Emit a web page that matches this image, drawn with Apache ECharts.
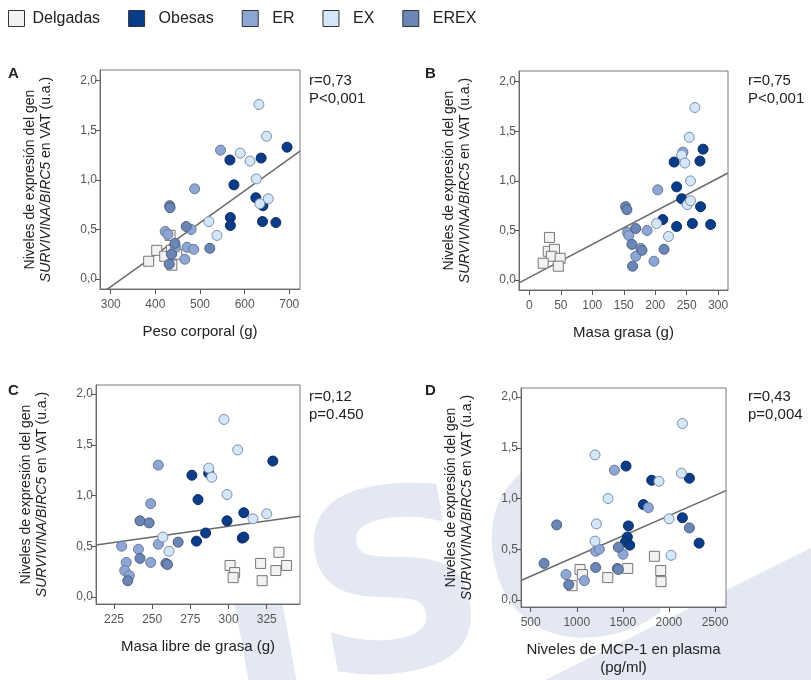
<!DOCTYPE html>
<html>
<head>
<meta charset="utf-8">
<script src="https://cdn.jsdelivr.net/npm/echarts@6/dist/echarts.min.js"></script>
<style>
  html, body { margin: 0; padding: 0; background: #fff; }
  #chart { width: 811px; height: 680px; }
</style>
</head>
<body>
<div id="chart"></div>
<script>
// tick values
var yTicks = [0, 0.5, 1, 1.5, 2];
var xTicksA = [300, 400, 500, 600, 700];
var xTicksB = [0, 50, 100, 150, 200, 250, 300];
var xTicksC = [225, 250, 275, 300, 325];
var xTicksD = [500, 1000, 1500, 2000, 2500];

// groups
var groups = ['Delgadas', 'Obesas', 'ER', 'EX', 'EREX'];

// A: peso corporal (g)
var aDelgadas = [[433, 0.44], [403, 0.29], [421, 0.23], [448, 0.25], [437, 0.14], [385, 0.18], [436, 0.29]];
var aObesas = [[695, 1.33], [567, 1.20], [637, 1.22], [576, 0.95], [625, 0.82], [641, 0.74], [568, 0.62], [568, 0.54], [640, 0.58], [670, 0.57]];
var aER = [[546, 1.30], [488, 0.91], [480, 0.50], [422, 0.48], [428, 0.45], [445, 0.32], [471, 0.32], [486, 0.30], [466, 0.20]];
var aEX = [[632, 1.76], [649, 1.44], [590, 1.27], [612, 1.19], [626, 1.01], [634, 0.76], [653, 0.81], [520, 0.58], [538, 0.44]];
var aEREX = [[432, 0.74], [433, 0.72], [469, 0.53], [444, 0.36], [522, 0.31], [436, 0.25], [431, 0.15]];

// B: masa grasa (g)
var bDelgadas = [[32, 0.43], [30, 0.29], [40, 0.31], [35, 0.24], [49, 0.22], [22, 0.17], [46, 0.14]];
var bObesas = [[276, 1.32], [230, 1.19], [271, 1.20], [234, 0.94], [242, 0.82], [272, 0.74], [212, 0.61], [234, 0.54], [259, 0.57], [288, 0.56]];
var bER = [[244, 1.29], [204, 0.91], [187, 0.50], [156, 0.48], [158, 0.45], [177, 0.32], [198, 0.19], [169, 0.24]];
var bEX = [[263, 1.74], [254, 1.44], [242, 1.26], [247, 1.18], [256, 1.00], [251, 0.76], [256, 0.80], [202, 0.57], [221, 0.44]];
var bEREX = [[153, 0.74], [155, 0.71], [169, 0.52], [163, 0.36], [179, 0.30], [214, 0.31], [164, 0.14]];

// C: masa libre de grasa (g)
var cDelgadas = [[301, 0.31], [304, 0.24], [303, 0.19], [321, 0.33], [322, 0.16], [333, 0.44], [331, 0.26], [338, 0.31]];
var cObesas = [[329, 1.34], [276, 1.20], [287, 1.22], [280, 0.96], [310, 0.83], [299, 0.75], [285, 0.63], [309, 0.58], [310, 0.59], [279, 0.55]];
var cER = [[254, 1.30], [249, 0.92], [254, 0.52], [230, 0.50], [241, 0.47], [233, 0.34], [249, 0.34], [232, 0.26], [235, 0.21]];
var cEX = [[297, 1.75], [306, 1.45], [287, 1.27], [289, 1.18], [299, 1.01], [316, 0.77], [325, 0.82], [257, 0.59], [261, 0.45]];
var cEREX = [[242, 0.75], [248, 0.73], [267, 0.54], [242, 0.38], [259, 0.33], [260, 0.32], [234, 0.16]];

// D: MCP-1 en plasma (pg/ml)
var dDelgadas = [[1035, 0.30], [1061, 0.25], [949, 0.14], [1336, 0.22], [1553, 0.31], [1842, 0.43], [1911, 0.29], [1914, 0.18]];
var dObesas = [[1534, 1.32], [1813, 1.18], [2222, 1.20], [1723, 0.94], [2146, 0.81], [1560, 0.73], [1549, 0.62], [1527, 0.57], [1574, 0.54], [2327, 0.56]];
var dER = [[1408, 1.28], [1777, 0.91], [1205, 0.48], [1245, 0.50], [1502, 0.45], [883, 0.25], [1082, 0.19]];
var dEX = [[2146, 1.74], [1198, 1.43], [2135, 1.25], [1892, 1.17], [1339, 1.00], [2001, 0.80], [1213, 0.75], [1198, 0.58], [2023, 0.44]];
var dEREX = [[2222, 0.71], [782, 0.74], [1451, 0.52], [645, 0.36], [1205, 0.32], [1440, 0.31], [1451, 0.30], [912, 0.15]];

// regression lines [intercept, slope]
var fitA = [-1.046, 0.003228];
var fitB = [0.0264, 0.003336];
var fitC = [0.0614, 0.002118];
var fitD = [0.0334, 0.000399];

var colors = {
    Delgadas: '#f2f2f2',
    Obesas: '#0b3c87',
    ER: '#8ea6d6',
    EX: '#d4e6fa',
    EREX: '#6a86b6'
};
var borders = {
    Delgadas: '#777777',
    Obesas: '#0a2c66',
    ER: '#6a7a96',
    EX: '#7f8ea6',
    EREX: '#4f5f7e'
};

var panels = [
    { letter: 'A', grid: { left: 100, top: 70, width: 200, height: 219 }, xMin: 276, xMax: 724, yMin: -0.1, yMax: 2.108, xTicks: xTicksA, xName: 'Peso corporal (g)',
      data: [aDelgadas, aObesas, aER, aEX, aEREX], fit: fitA, stats: 'r=0,73\nP<0,001', sx: 309, sy: 72, lx: 8, ly: 66 },
    { letter: 'B', grid: { left: 519, top: 71, width: 209, height: 219 }, xMin: -16.4, xMax: 315.6, yMin: -0.1, yMax: 2.108, xTicks: xTicksB, xName: 'Masa grasa (g)',
      data: [bDelgadas, bObesas, bER, bEX, bEREX], fit: fitB, stats: 'r=0,75\nP<0,001', sx: 748, sy: 72, lx: 425, ly: 66 },
    { letter: 'C', grid: { left: 96, top: 385, width: 204, height: 219 }, xMin: 213.2, xMax: 346.8, yMin: -0.07, yMax: 2.09, xTicks: xTicksC, xName: 'Masa libre de grasa (g)',
      data: [cDelgadas, cObesas, cER, cEX, cEREX], fit: fitC, stats: 'r=0,12\np=0.450', sx: 309, sy: 388, lx: 8, ly: 383 },
    { letter: 'D', grid: { left: 521, top: 388, width: 205, height: 219 }, xMin: 395, xMax: 2619, yMin: -0.07, yMax: 2.09, xTicks: xTicksD, xName: 'Niveles de MCP-1 en plasma\n(pg/ml)',
      data: [dDelgadas, dObesas, dER, dEX, dEREX], fit: fitD, stats: 'r=0,43\np=0,004', sx: 748, sy: 388, lx: 425, ly: 383 }
];

var yName = 'Niveles de expresión del gen\n{i|SURVIVINA/BIRC5} en VAT (u.a.)';

var grids = [], xAxes = [], yAxes = [], series = [];

// pale watermark behind the plots
var graphics = [
    { type: 'polygon', z: -10, silent: true,
      shape: { points: [[545, 680], [811, 548], [811, 680]] },
      style: { fill: '#e4e8f3' } },
    { type: 'text', z: -10, silent: true, left: 195, top: 432, rotation: 0.18,
      style: { text: 'ISC', font: 'bold 250px DejaVu Sans', fill: '#e4e8f3' } }
];

panels.forEach(function (p, k) {
    grids.push({
        left: p.grid.left, top: p.grid.top, width: p.grid.width, height: p.grid.height,
        show: true, borderColor: '#7a7a7a', borderWidth: 1, backgroundColor: '#fff'
    });
    xAxes.push({
        gridIndex: k, type: 'value', min: p.xMin, max: p.xMax,
        name: p.xName, nameLocation: 'middle', nameGap: 34,
        nameTextStyle: { fontSize: 15, color: '#222', fontFamily: 'Liberation Sans, Arial', lineHeight: 18 },
        splitLine: { show: false },
        axisLine: { show: true, onZero: false, lineStyle: { color: '#6a6a6a' } },
        axisTick: { show: true, customValues: p.xTicks, length: 5, lineStyle: { color: '#555' } },
        axisLabel: {
            customValues: p.xTicks, margin: 10, fontSize: 12, color: '#555', fontFamily: 'Liberation Sans, Arial',
            formatter: function (v) { return String(v); }
        }
    });
    yAxes.push({
        gridIndex: k, type: 'value', min: p.yMin, max: p.yMax,
        name: yName, nameLocation: 'middle', nameGap: 46, nameRotate: 90,
        nameTextStyle: {
            fontSize: 14, color: '#222', fontFamily: 'Liberation Sans, Arial', lineHeight: 16,
            rich: { i: { fontSize: 14, fontStyle: 'italic', color: '#222', fontFamily: 'Liberation Sans, Arial' } }
        },
        splitLine: { show: false },
        axisLine: { show: true, onZero: false, lineStyle: { color: '#6a6a6a' } },
        axisTick: { show: true, customValues: yTicks, length: 5, lineStyle: { color: '#555' } },
        axisLabel: {
            customValues: yTicks, margin: 3, fontSize: 12, color: '#555', fontFamily: 'Liberation Sans, Arial',
            formatter: function (v) { return v.toFixed(1).replace('.', ','); }
        }
    });
    groups.forEach(function (g, j) {
        series.push({
            name: g, type: 'scatter', xAxisIndex: k, yAxisIndex: k,
            symbol: g === 'Delgadas' ? 'rect' : 'circle',
            symbolSize: 10,
            itemStyle: { color: colors[g], borderColor: borders[g], borderWidth: 1, opacity: 1 },
            data: p.data[j],
            z: 3
        });
    });
    series.push({
        type: 'line', xAxisIndex: k, yAxisIndex: k, symbol: 'none', silent: true, clip: true,
        lineStyle: { color: '#6a6a6a', width: 1.5 },
        data: [[p.xMin, p.fit[0] + p.fit[1] * p.xMin], [p.xMax, p.fit[0] + p.fit[1] * p.xMax]],
        z: 2
    });
    graphics.push({
        type: 'text', left: p.lx, top: p.ly,
        style: { text: p.letter, font: 'bold 15px Liberation Sans, Arial', fill: '#222' }
    });
    graphics.push({
        type: 'text', left: p.sx, top: p.sy,
        style: { text: p.stats, font: '15px Liberation Sans, Arial', fill: '#222', lineHeight: 18 }
    });
});

var legendData = groups.map(function (g, i) {
    return { name: g, textStyle: { padding: [0, 0, 0, i === 0 ? 3 : 9] } };
});

var chart = echarts.init(document.getElementById('chart'), null, { renderer: 'canvas' });
chart.setOption({
    animation: false,
    backgroundColor: '#fff',
    legend: {
        data: legendData, left: 3, top: 5, icon: 'rect', itemWidth: 16, itemHeight: 16, itemGap: 28,
        itemStyle: { borderColor: '#333', borderWidth: 1 },
        textStyle: { fontSize: 16, color: '#222', fontFamily: 'Liberation Sans, Arial' }
    },
    grid: grids,
    xAxis: xAxes,
    yAxis: yAxes,
    series: series,
    graphic: graphics
});
</script>
</body>
</html>
